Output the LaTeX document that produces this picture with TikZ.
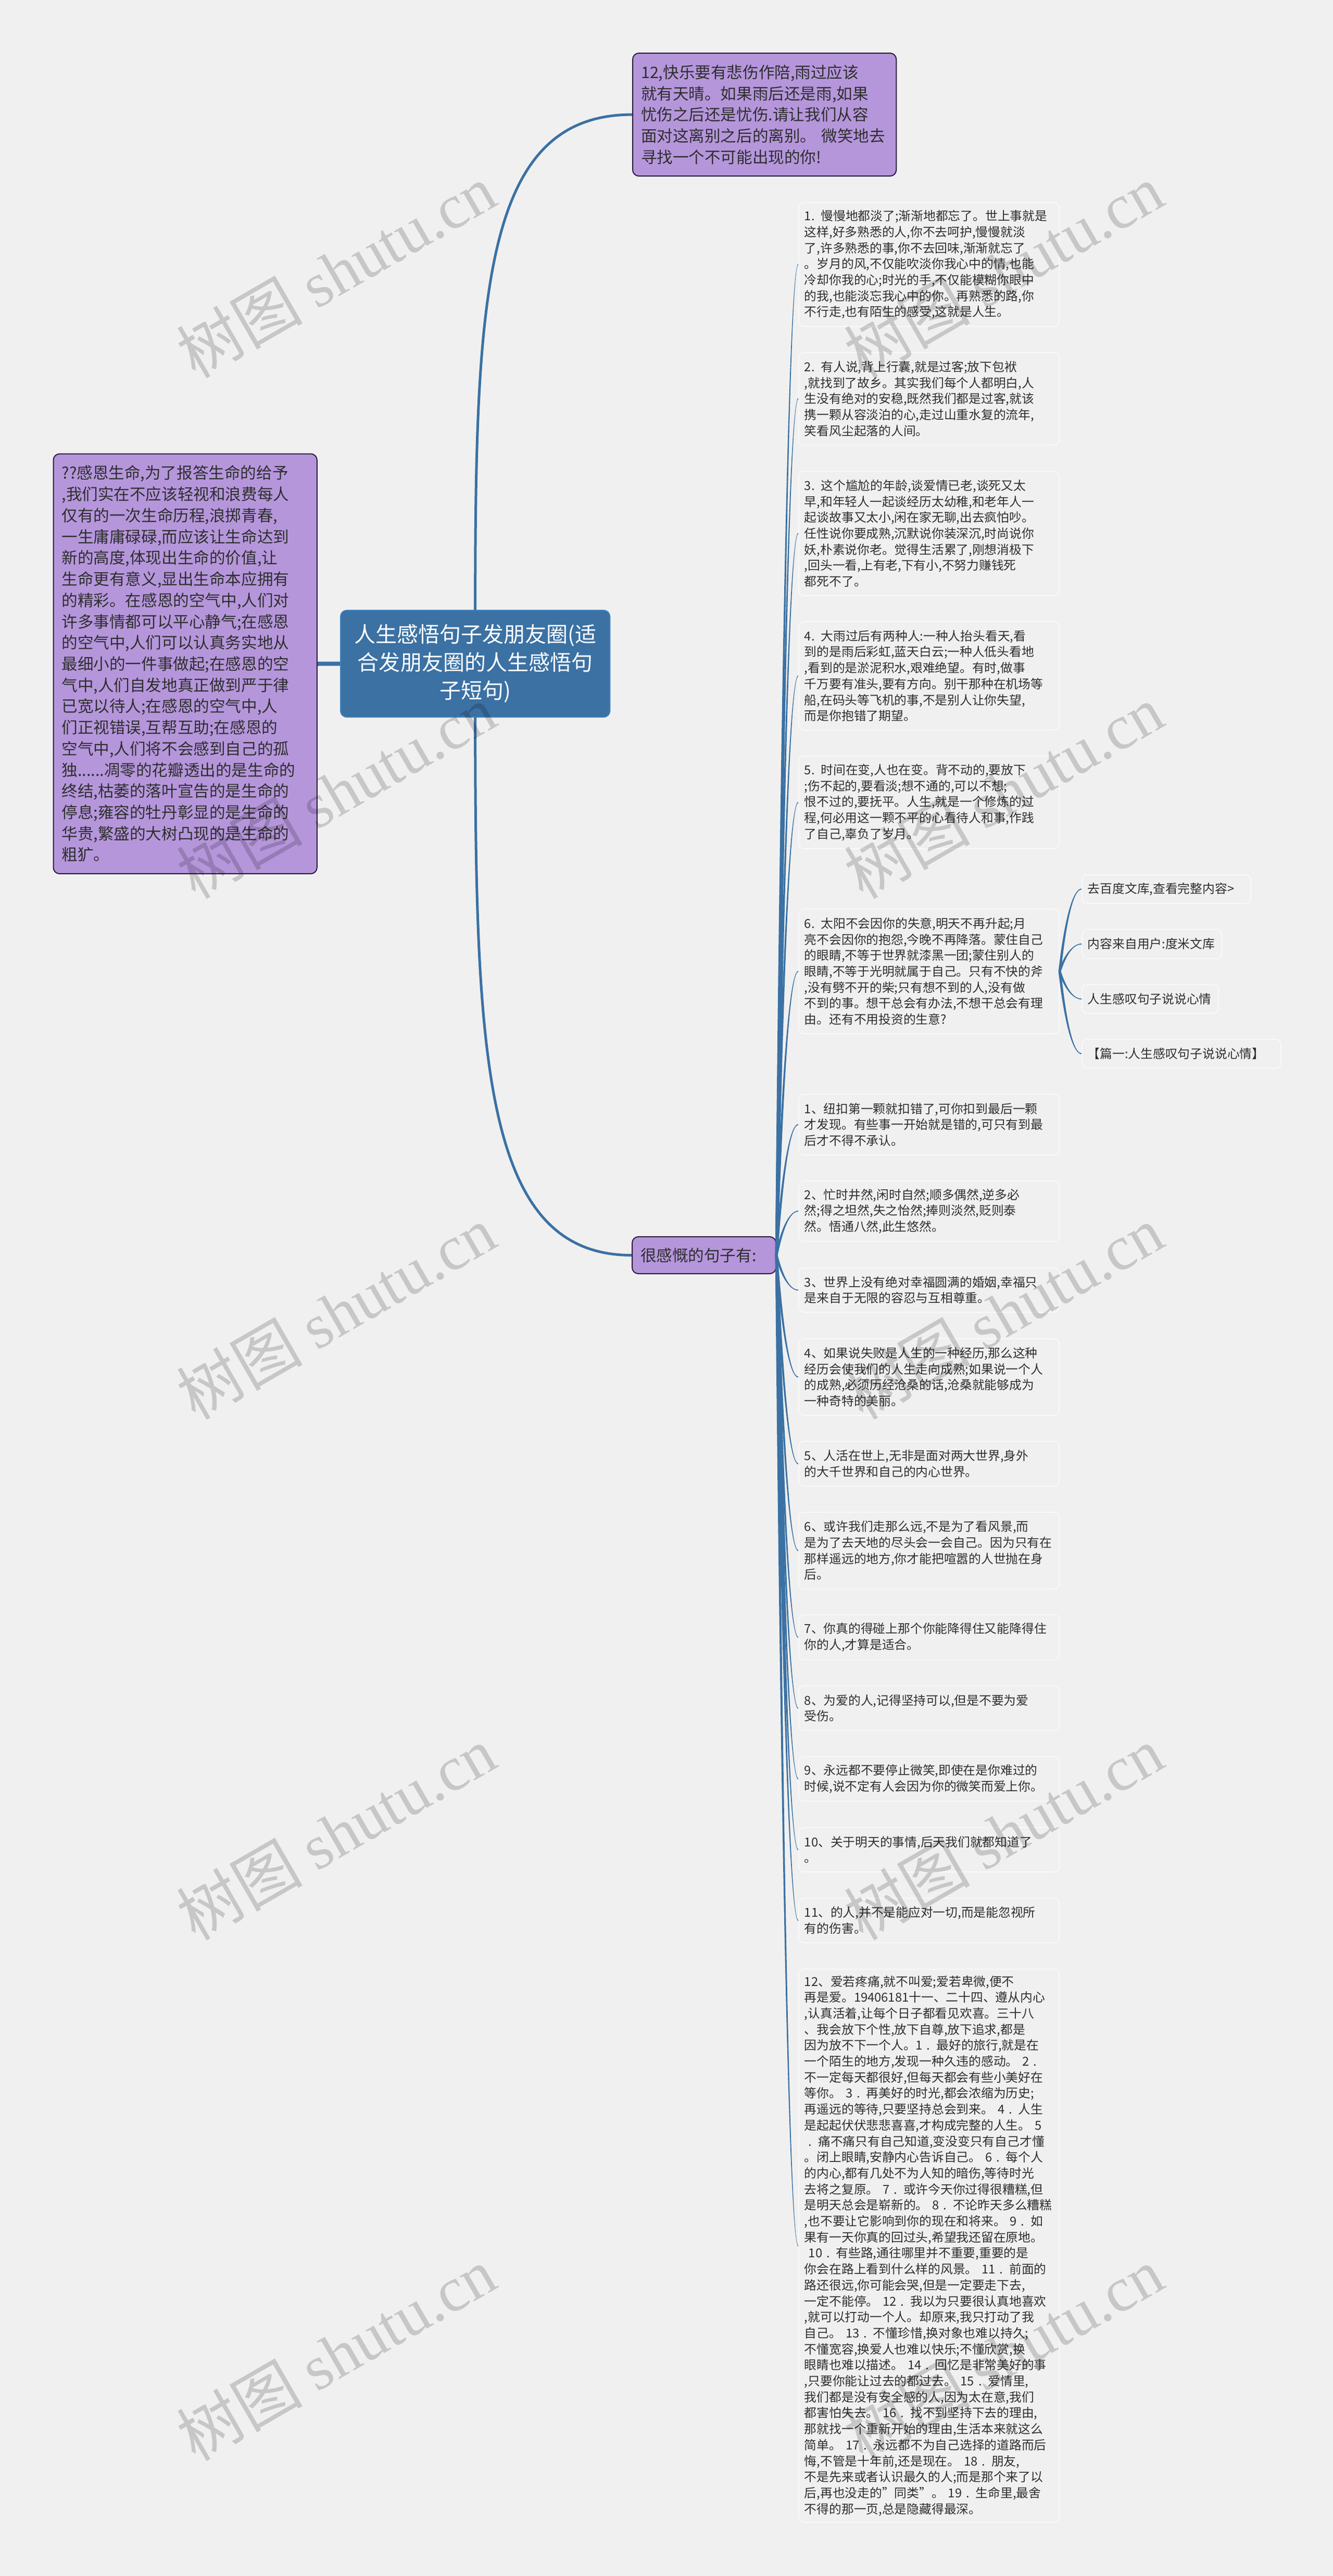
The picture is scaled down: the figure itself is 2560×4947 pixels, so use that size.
\documentclass[tikz,border=0pt]{standalone}
\usepackage{fontspec}
\setmainfont{Noto Sans CJK SC}
\newfontfamily\wmlatin{Liberation Serif}
\usetikzlibrary{calc}

\definecolor{bgcol}{HTML}{F0F0F0}
\definecolor{purplecol}{HTML}{B596DB}
\definecolor{purpleline}{HTML}{2B1C3A}
\definecolor{bluecol}{HTML}{3B71A3}
\definecolor{blueline}{HTML}{4080BC}
\definecolor{leafline}{HTML}{F9F9F9}
\definecolor{textcol}{HTML}{2E2E2E}

\tikzset{
    purplebox/.style={draw=purpleline, fill=purplecol, line width=.02cm, rounded corners=.12cm,
        anchor=north west, align=left, text=textcol, inner xsep=.16cm, inner ysep=0pt, text width=4.74cm,
        font=\fontsize{8.7pt}{11.58pt}\selectfont},
    leafbox/.style={draw=leafline, fill=bgcol, line width=.018cm, rounded corners=.1cm,
        anchor=north west, align=left, text=textcol, inner xsep=.11cm, inner ysep=0pt, text width=4.78cm,
        font=\fontsize{6.76pt}{8.73pt}\selectfont},
    rootbox/.style={draw=blueline, fill=bluecol, line width=.02cm, rounded corners=.12cm,
        anchor=north west, align=center, text=white, inner xsep=.16cm, inner ysep=0pt, text width=4.85cm,
        minimum height=2.05cm, font=\fontsize{11.67pt}{15.36pt}\selectfont},
    rootlink/.style={draw=bluecol, line width=.05cm},
    watermark/.style={text=black, opacity=.17, rotate=30, font=\fontsize{34.4pt}{36pt}\selectfont}
}

% tapered curve from the east side of one node to the west side of another
\newcommand{\fanlink}[2]{%
    \fill[bluecol] let \p1=(#1.east), \p2=(#2.west) in
        ({\x1-.7pt},\y1)
        .. controls ({\x1+.25*(\x2-\x1)-.6pt},{\y1+.6*(\y2-\y1)}) and ({\x1+.6*(\x2-\x1)-.3pt},\y2)
        .. (\x2,{\y2+.3pt*sign(\y2-\y1)}) -- (\x2,{\y2-.3pt*sign(\y2-\y1)})
        .. controls ({\x1+.6*(\x2-\x1)+.3pt},\y2) and ({\x1+.25*(\x2-\x1)+.6pt},{\y1+.6*(\y2-\y1)})
        .. ({\x1+.7pt},\y1) -- cycle;}

\begin{document}
\begin{tikzpicture}[x=.01cm, y=-.01cm]
    \useasboundingbox (0, 0) rectangle (2560, 4947);
    \fill[bgcol] (0, 0) rectangle (2560, 4947);

    % root and the two boxes next to it
    \node[rootbox, minimum width=5.17cm] (root) at (653, 1171) {人生感悟句子发朋友圈(适\\合发朋友圈的人生感悟句\\子短句)};
    \node[purplebox, minimum width=5.06cm, minimum height=8.06cm] (thanks) at (101.5, 870.5) {??感恩生命,为了报答生命的给予\\,我们实在不应该轻视和浪费每人\\仅有的一次生命历程,浪掷青春,\\一生庸庸碌碌,而应该让生命达到\\新的高度,体现出生命的价值,让\\生命更有意义,显出生命本应拥有\\的精彩。在感恩的空气中,人们对\\许多事情都可以平心静气;在感恩\\的空气中,人们可以认真务实地从\\最细小的一件事做起;在感恩的空\\气中,人们自发地真正做到严于律\\已宽以待人;在感恩的空气中,人\\们正视错误,互帮互助;在感恩的\\空气中,人们将不会感到自己的孤\\独......凋零的花瓣透出的是生命的\\终结,枯萎的落叶宣告的是生命的\\停息;雍容的牡丹彰显的是生命的\\华贵,繁盛的大树凸现的是生命的\\粗犷。};
    \node[purplebox, minimum width=5.06cm, minimum height=2.36cm] (rainy) at (1214, 101) {12,快乐要有悲伤作陪,雨过应该\\就有天晴。如果雨后还是雨,如果\\忧伤之后还是忧伤.请让我们从容\\面对这离别之后的离别。 微笑地去\\寻找一个不可能出现的你!};
    \node[purplebox, text width=2.44cm, minimum width=2.76cm, minimum height=.71cm] (hub) at (1213, 2374) {很感慨的句子有:};

    % upper leaves
    \node[leafbox, minimum height=2.38cm] (leafa) at (1533, 388) {1. 慢慢地都淡了;渐渐地都忘了。世上事就是\\这样,好多熟悉的人,你不去呵护,慢慢就淡\\了,许多熟悉的事,你不去回味,渐渐就忘了\\。岁月的风,不仅能吹淡你我心中的情,也能\\冷却你我的心;时光的手,不仅能模糊你眼中\\的我,也能淡忘我心中的你。再熟悉的路,你\\不行走,也有陌生的感受,这就是人生。};
    \node[leafbox, minimum height=1.775cm] (leafb) at (1533, 676) {2. 有人说,背上行囊,就是过客;放下包袱\\,就找到了故乡。其实我们每个人都明白,人\\生没有绝对的安稳,既然我们都是过客,就该\\携一颗从容淡泊的心,走过山重水复的流年,\\笑看风尘起落的人间。};
    \node[leafbox, minimum height=2.39cm] (leafc) at (1533, 904) {3. 这个尴尬的年龄,谈爱情已老,谈死又太\\早,和年轻人一起谈经历太幼稚,和老年人一\\起谈故事又太小,闲在家无聊,出去疯怕吵。\\任性说你要成熟,沉默说你装深沉,时尚说你\\妖,朴素说你老。觉得生活累了,刚想消极下\\,回头一看,上有老,下有小,不努力赚钱死\\都死不了。};
    \node[leafbox, minimum height=2.08cm] (leafd) at (1533, 1193) {4. 大雨过后有两种人:一种人抬头看天,看\\到的是雨后彩虹,蓝天白云;一种人低头看地\\,看到的是淤泥积水,艰难绝望。有时,做事\\千万要有准头,要有方向。别干那种在机场等\\船,在码头等飞机的事,不是别人让你失望,\\而是你抱错了期望。};
    \node[leafbox, minimum height=1.78cm] (leafe) at (1533, 1451) {5. 时间在变,人也在变。背不动的,要放下\\;伤不起的,要看淡;想不通的,可以不想;\\恨不过的,要抚平。人生,就是一个修炼的过\\程,何必用这一颗不平的心看待人和事,作践\\了自己,辜负了岁月。};
    \node[leafbox, minimum height=2.39cm] (leaff) at (1533, 1745) {6. 太阳不会因你的失意,明天不再升起;月\\亮不会因你的抱怨,今晚不再降落。蒙住自己\\的眼睛,不等于世界就漆黑一团;蒙住别人的\\眼睛,不等于光明就属于自己。只有不快的斧\\,没有劈不开的柴;只有想不到的人,没有做\\不到的事。想干总会有办法,不想干总会有理\\由。还有不用投资的生意?};

    % small leaves right of the sixth one
    \node[leafbox, text width=3.02cm, minimum height=.55cm] (suba) at (2077, 1679) {去百度文库,查看完整内容>};
    \node[leafbox, text width=2.47cm, minimum height=.56cm] (subb) at (2077, 1784) {内容来自用户:度米文库};
    \node[leafbox, text width=2.40cm, minimum height=.55cm] (subc) at (2077, 1890) {人生感叹句子说说心情};
    \node[leafbox, text width=3.60cm, minimum height=.55cm] (subd) at (2077, 1995) {【篇一:人生感叹句子说说心情】};

    % lower leaves
    \node[leafbox, minimum height=1.165cm] (linea) at (1533, 2100.5) {1、纽扣第一颗就扣错了,可你扣到最后一颗\\才发现。有些事一开始就是错的,可只有到最\\后才不得不承认。};
    \node[leafbox, minimum height=1.16cm] (lineb) at (1533, 2267) {2、忙时井然,闲时自然;顺多偶然,逆多必\\然;得之坦然,失之怡然;捧则淡然,贬则泰\\然。悟通八然,此生悠然。};
    \node[leafbox, minimum height=.85cm] (linec) at (1533, 2434) {3、世界上没有绝对幸福圆满的婚姻,幸福只\\是来自于无限的容忍与互相尊重。};
    \node[leafbox, minimum height=1.47cm] (lined) at (1533, 2570) {4、如果说失败是人生的一种经历,那么这种\\经历会使我们的人生走向成熟;如果说一个人\\的成熟,必须历经沧桑的话,沧桑就能够成为\\一种奇特的美丽。};
    \node[leafbox, minimum height=.86cm] (linee) at (1533, 2767) {5、人活在世上,无非是面对两大世界,身外\\的大千世界和自己的内心世界。};
    \node[leafbox, minimum height=1.475cm] (linef) at (1533, 2903) {6、或许我们走那么远,不是为了看风景,而\\是为了去天地的尽头会一会自己。因为只有在\\那样遥远的地方,你才能把喧嚣的人世抛在身\\后。};
    \node[leafbox, minimum height=.865cm] (lineg) at (1533, 3100) {7、你真的得碰上那个你能降得住又能降得住\\你的人,才算是适合。};
    \node[leafbox, minimum height=.86cm] (lineh) at (1533, 3236.5) {8、为爱的人,记得坚持可以,但是不要为爱\\受伤。};
    \node[leafbox, minimum height=.855cm] (linei) at (1533, 3372.5) {9、永远都不要停止微笑,即使在是你难过的\\时候,说不定有人会因为你的微笑而爱上你。};
    \node[leafbox, minimum height=.855cm] (linej) at (1533, 3508.5) {10、关于明天的事情,后天我们就都知道了\\。};
    \node[leafbox, minimum height=.855cm] (linek) at (1533, 3644.5) {11、的人,并不是能应对一切,而是能忽视所\\有的伤害。};
    \node[leafbox, minimum height=10.62cm] (linel) at (1533, 3780.5) {12、爱若疼痛,就不叫爱;爱若卑微,便不\\再是爱。19406181十一、二十四、遵从内心\\,认真活着,让每个日子都看见欢喜。三十八\\、我会放下个性,放下自尊,放下追求,都是\\因为放不下一个人。1 . 最好的旅行,就是在\\一个陌生的地方,发现一种久违的感动。 2 .\\不一定每天都很好,但每天都会有些小美好在\\等你。 3 . 再美好的时光,都会浓缩为历史;\\再遥远的等待,只要坚持总会到来。 4 . 人生\\是起起伏伏悲悲喜喜,才构成完整的人生。 5\\~. 痛不痛只有自己知道,变没变只有自己才懂\\。闭上眼睛,安静内心告诉自己。 6 . 每个人\\的内心,都有几处不为人知的暗伤,等待时光\\去将之复原。 7 . 或许今天你过得很糟糕,但\\是明天总会是崭新的。 8 . 不论昨天多么糟糕\\,也不要让它影响到你的现在和将来。 9 . 如\\果有一天你真的回过头,希望我还留在原地。\\~10 . 有些路,通往哪里并不重要,重要的是\\你会在路上看到什么样的风景。 11 . 前面的\\路还很远,你可能会哭,但是一定要走下去,\\一定不能停。 12 . 我以为只要很认真地喜欢\\,就可以打动一个人。却原来,我只打动了我\\自己。 13 . 不懂珍惜,换对象也难以持久;\\不懂宽容,换爱人也难以快乐;不懂欣赏,换\\眼睛也难以描述。 14 . 回忆是非常美好的事\\,只要你能让过去的都过去。 15 . 爱情里,\\我们都是没有安全感的人,因为太在意,我们\\都害怕失去。 16 . 找不到坚持下去的理由,\\那就找一个重新开始的理由,生活本来就这么\\简单。 17 . 永远都不为自己选择的道路而后\\悔,不管是十年前,还是现在。 18 . 朋友,\\不是先来或者认识最久的人;而是那个来了以\\后,再也没走的"同类"。 19 . 生命里,最舍\\不得的那一页,总是隐藏得最深。};

    % connectors
    \draw[bluecol, line width=.08cm] (root.west) -- (thanks.east);
    \draw[rootlink] (root.north) .. controls +(0, -611) and +(-284, 0) .. (rainy.west);
    \draw[rootlink] (root.south) .. controls +(0, 661) and +(-283, 0) .. (hub.west);
    \foreach \leafname in {leafa, leafb, leafc, leafd, leafe, leaff, linea, lineb, linec, lined, linee, linef, lineg, lineh, linei, linej, linek, linel} {
        \fanlink{hub}{\leafname}
    }
    \foreach \subname in {suba, subb, subc, subd} {
        \fanlink{leaff}{\subname}
    }

    % marks laid over everything
    \foreach \wy in {520, 1520, 2520, 3520, 4520} {
        \foreach \wx in {645, 1927} {
            \node[watermark] (mark\wx\wy) at (\wx, \wy) {树图 {\wmlatin shutu.cn}};
        }
    }
\end{tikzpicture}
\end{document}
